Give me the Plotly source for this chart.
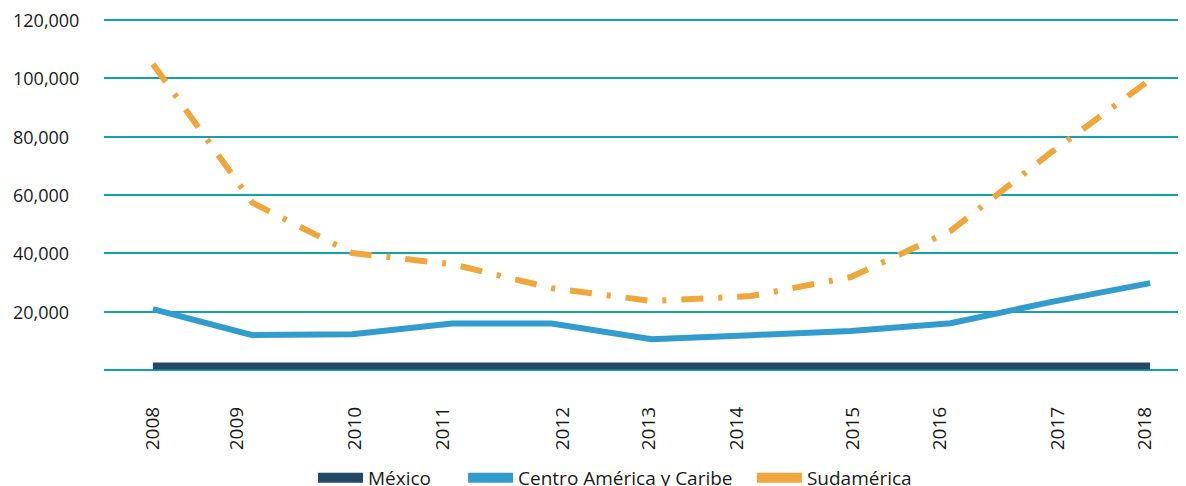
import plotly.graph_objects as go

years = [2008, 2009, 2010, 2011, 2012, 2013, 2014, 2015, 2016, 2017, 2018]
mexico = [1400, 1400, 1400, 1400, 1400, 1400, 1400, 1400, 1400, 1400, 1400]
centro_america = [20900, 12000, 12300, 16000, 16000, 10600, 12000, 13400, 16100, 23300, 29800]
sudamerica = [104900, 57300, 40100, 36300, 28100, 23700, 25400, 31900, 47700, 74400, 99500]
y_ticks = [20000, 40000, 60000, 80000, 100000, 120000]
tick_labels = [str(y) for y in years]
series_names = ["México", "Centro América y Caribe", "Sudamérica"]
# where the rotated year labels sit along the axis (layout only)
tick_label_pos = [2008, 2008.84, 2010.03, 2010.91, 2012.11, 2012.97, 2013.86,
                  2015.02, 2015.89, 2017.07, 2017.95]
legend_x = [0.2589, 0.3863, 0.6315]

C_MEX = "#224a67"
C_CAM = "#339ccf"
C_SUD = "#efa63b"
C_GRID = "#11a2ae"
FONT = "Open Sans"
TXT = "#1a1a1a"

fig = go.Figure()
fig.add_trace(go.Scatter(x=years, y=sudamerica, mode="lines", showlegend=False,
                         line=dict(color=C_SUD, width=6, dash="22px,15px,4px,15px")))
fig.add_trace(go.Scatter(x=years, y=centro_america, mode="lines", showlegend=False,
                         line=dict(color=C_CAM, width=6)))
fig.add_trace(go.Scatter(x=years, y=mexico, mode="lines", showlegend=False,
                         line=dict(color=C_MEX, width=7)))

# legend entries (solid swatches), each in its own legend box
legend_ids = ["legend", "legend2", "legend3"]
for name, col, lid in zip(series_names, [C_MEX, C_CAM, C_SUD], legend_ids):
    fig.add_trace(go.Scatter(x=[None], y=[None], mode="lines", name=name, legend=lid,
                             line=dict(color=col, width=10)))

for v in y_ticks:
    fig.add_annotation(x=0, xref="paper", y=v, yref="y", text=f"{v:,}",
                       showarrow=False, xanchor="left", xshift=-93,
                       font=dict(family=FONT, size=18, color=TXT))

leg_common = dict(orientation="h", xanchor="left", yref="container", y=0.0565,
                  yanchor="top", xref="container",
                  font=dict(family=FONT, size=19, color=TXT),
                  itemwidth=45, bgcolor="rgba(0,0,0,0)")

# the page body adds an 8px offset, so the figure is sized to fit the 1186x486 window
fig.update_layout(
    width=1178, height=478,
    margin=dict(l=96, r=0, t=6.2, b=110.2, autoexpand=False),
    paper_bgcolor="white", plot_bgcolor="white",
    font=dict(family=FONT, size=19, color=TXT),
    xaxis=dict(range=[2007.51, 2018.36], tickmode="array",
               tickvals=tick_label_pos, ticktext=tick_labels,
               tickangle=-90, showgrid=False, zeroline=False, showline=False,
               ticks="", ticklabelstandoff=26, automargin=False,
               tickfont=dict(family=FONT, size=19, color=TXT)),
    yaxis=dict(range=[-2000, 122000], tickmode="array", tickvals=[0] + y_ticks,
               showticklabels=False, showgrid=True, gridcolor=C_GRID, gridwidth=2,
               zeroline=False, showline=False, ticks="", automargin=False),
    legend=dict(leg_common, x=legend_x[0]),
    legend2=dict(leg_common, x=legend_x[1]),
    legend3=dict(leg_common, x=legend_x[2]),
)

fig.write_html("out.html")
